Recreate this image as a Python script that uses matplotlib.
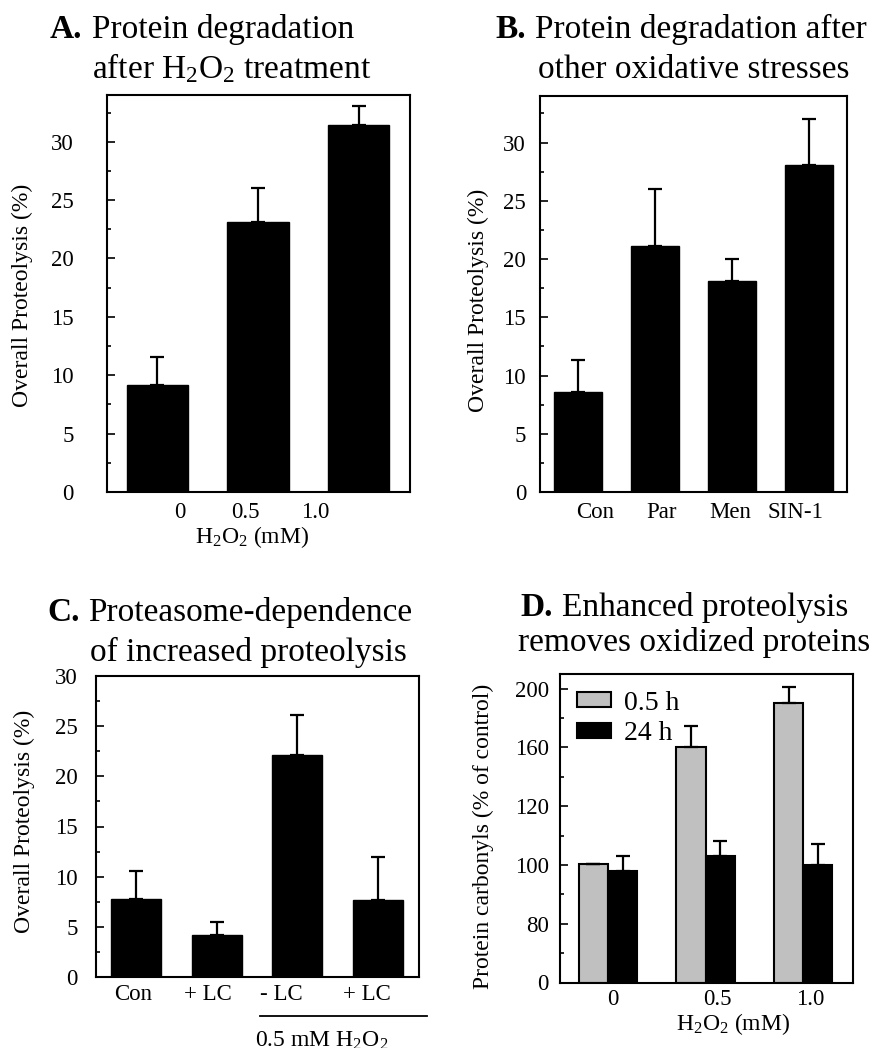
import matplotlib
matplotlib.use('Agg')
import matplotlib.pyplot as plt
import numpy as np
from matplotlib.lines import Line2D
from matplotlib.ticker import FixedLocator, MultipleLocator

plt.rcParams['font.family'] = ['Liberation Serif', 'DejaVu Serif']
plt.rcParams['mathtext.fontset'] = 'custom'
plt.rcParams['mathtext.rm'] = 'Liberation Serif'
plt.rcParams['mathtext.default'] = 'regular'

# ---- data ----
a_labels = ['0', '0.5', '1.0']
a_vals = [9.2, 23.1, 31.4]
a_err = [2.4, 2.9, 1.7]

b_labels = ['Con', 'Par', 'Men', 'SIN-1']
b_vals = [8.6, 21.1, 18.1, 28.1]
b_err = [2.7, 4.9, 1.9, 3.9]

c_labels = ['Con', '+ LC', '- LC', '+ LC']
c_vals = [7.8, 4.2, 22.1, 7.7]
c_err = [2.8, 1.3, 4.0, 4.3]

d_labels = ['0', '0.5', '1.0']
d_series = ['0.5 h', '24 h']
d_short = [100.5, 160.5, 190.0]
d_short_err = [0.0, 14.0, 11.0]
d_long = [98.0, 103.0, 100.0]
d_long_err = [5.0, 5.0, 7.0]
d_yticks = [0, 80, 100, 120, 160, 200]

W, H = 880, 1048
fig = plt.figure(figsize=(W / 100, H / 100), dpi=100)


def add_ax(l, t, r, b):
    return fig.add_axes([l / W, 1 - b / H, (r - l) / W, (b - t) / H])


def ftext(x, y, s, **kw):
    fig.text(x / W, 1 - y / H, s, **kw)


def style(ax, pad):
    for sp in ax.spines.values():
        sp.set_linewidth(1.5)
    ax.tick_params(axis='y', which='both', direction='in', labelsize=16.5,
                   pad=pad, width=1.2, right=False)
    ax.tick_params(axis='y', which='major', length=6)
    ax.tick_params(axis='y', which='minor', length=3)
    ax.tick_params(axis='x', length=0, labelsize=16.5, pad=7)


def simple_bars(ax, vals, err, width):
    x = np.arange(len(vals))
    ax.bar(x, vals, width, color='black', edgecolor='black')
    ax.errorbar(x, vals, yerr=[np.zeros(len(err)), err], fmt='none',
                ecolor='black', elinewidth=1.6, capsize=5, capthick=1.6)


title_kw = dict(fontsize=24, va='baseline', ha='left')
bold_kw = dict(fontsize=24, va='baseline', ha='left', fontweight='bold')
ylab_kw = dict(fontsize=17, rotation=90, ha='center', va='center')

# ---- A ----
axA = add_ax(107, 95, 410, 492)
simple_bars(axA, a_vals, a_err, 0.61)
axA.set_xlim(-0.5, 2.51)
axA.set_ylim(0, 34)
axA.set_yticks(range(0, 31, 5))
axA.yaxis.set_minor_locator(MultipleLocator(2.5))
axA.set_xticks([0.22, 0.87, 1.57], a_labels)
style(axA, 24)
ftext(50, 38, 'A.', **bold_kw)
ftext(92, 38, 'Protein degradation', **title_kw)
ftext(92, 78, 'after H$_2$O$_2$ treatment', **title_kw)
ftext(22, 295, 'Overall Proteolysis (%)', **ylab_kw)
ftext(252, 543, 'H$_2$O$_2$ (mM)', fontsize=17, ha='center', va='baseline')

# ---- B ----
axB = add_ax(540, 96, 847, 492)
simple_bars(axB, b_vals, b_err, 0.62)
axB.set_xlim(-0.49, 3.49)
axB.set_ylim(0, 34)
axB.set_yticks(range(0, 31, 5))
axB.yaxis.set_minor_locator(MultipleLocator(2.5))
axB.set_xticks([0.22, 1.09, 1.97, 2.82], b_labels)
style(axB, 10)
ftext(495, 38, 'B.', **bold_kw)
ftext(535, 38, 'Protein degradation after', **title_kw)
ftext(538, 78, 'other oxidative stresses', **title_kw)
ftext(478, 300, 'Overall Proteolysis (%)', **ylab_kw)

# ---- C ----
axC = add_ax(96, 676, 419, 977)
simple_bars(axC, c_vals, c_err, 0.62)
axC.set_xlim(-0.5, 3.51)
axC.set_ylim(0, 30)
axC.set_yticks(range(0, 31, 5))
axC.yaxis.set_minor_locator(MultipleLocator(2.5))
axC.set_xticks([-0.04, 0.89, 1.80, 2.86], c_labels)
style(axC, 13)
axC.tick_params(axis='x', pad=5)
ftext(47, 621, 'C.', **bold_kw)
ftext(88, 621, 'Proteasome-dependence', **title_kw)
ftext(90, 661, 'of increased proteolysis', **title_kw)
ftext(24, 821, 'Overall Proteolysis (%)', **ylab_kw)
fig.add_artist(Line2D([260 / W, 427 / W], [1 - 1015.5 / H, 1 - 1015.5 / H],
                      color='black', lw=1.3))
# sits on the bottom edge, partly cut off as in the original
ftext(322, 1047, '0.5 mM H$_2$O$_2$', fontsize=17, ha='center', va='baseline')

# ---- D ----
axD = add_ax(560, 674, 853, 982.5)
brk = d_yticks + [240]
pos = np.arange(len(brk))
axD.set_yscale('function', functions=(lambda y: np.interp(y, brk, pos),
                                      lambda u: np.interp(u, pos, brk)))
xd = np.arange(len(d_labels))
bw = 0.30
g = axD.bar(xd - bw / 2, d_short, bw, color='#c0c0c0', edgecolor='black',
            linewidth=1.5, label=d_series[0])
k = axD.bar(xd + bw / 2, d_long, bw, color='black', edgecolor='black',
            linewidth=1.5, label=d_series[1])
axD.errorbar(xd - bw / 2, d_short, yerr=[np.zeros(3), d_short_err], fmt='none',
             ecolor='black', elinewidth=1.6, capsize=5, capthick=1.6)
axD.errorbar(xd + bw / 2, d_long, yerr=[np.zeros(3), d_long_err], fmt='none',
             ecolor='black', elinewidth=1.6, capsize=5, capthick=1.6)
axD.set_xlim(-0.49, 2.51)
axD.set_ylim(0, 210)
axD.yaxis.set_major_locator(FixedLocator(d_yticks))
axD.yaxis.set_minor_locator(FixedLocator([40, 90, 110, 140, 180]))
axD.set_yticklabels([str(v) for v in d_yticks])
axD.yaxis.set_minor_formatter(plt.NullFormatter())
axD.set_xticks([0.05, 1.12, 2.07], d_labels)
style(axD, 8)
axD.tick_params(axis='x', pad=5)
axD.legend(handles=[g, k], loc='upper left', frameon=False, fontsize=20,
           handlelength=1.25, handleheight=0.45, handletextpad=0.45,
           labelspacing=0.2, borderaxespad=0.3, borderpad=0.3)
ftext(520, 616, 'D.', **bold_kw)
ftext(562, 616, 'Enhanced proteolysis', **title_kw)
ftext(518, 651, 'removes oxidized proteins', **title_kw)
ftext(483, 836, 'Protein carbonyls (% of control)', **ylab_kw)
ftext(733, 1030, 'H$_2$O$_2$ (mM)', fontsize=17, ha='center', va='baseline')

fig.savefig('out.png', dpi=100)
